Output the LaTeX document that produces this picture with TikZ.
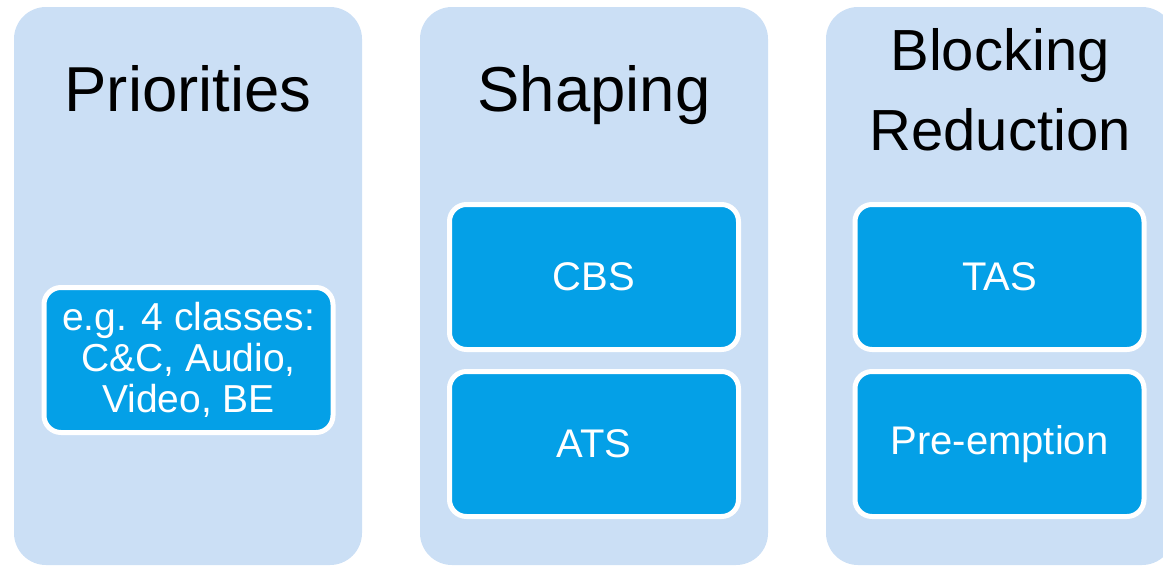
\documentclass[tikz,border=0pt]{standalone}
\usepackage{fontspec}
\setmainfont{Liberation Sans}
\usepackage{xcolor}
\usetikzlibrary{positioning}
\definecolor{colfill}{RGB}{203,223,245}
\definecolor{boxfill}{RGB}{4,160,231}

\begin{document}
\begin{tikzpicture}[x=1pt, y=-1pt,
    column/.style={fill=colfill, rounded corners=32pt, minimum width=348pt, minimum height=558pt, inner sep=0pt},
    heading/.style={font=\fontsize{63.5}{80}\selectfont, align=center, inner sep=0pt},
    mechbox/.style={fill=boxfill, draw=white, line width=5pt, rounded corners=17pt, minimum width=289pt, minimum height=145pt, inner sep=0pt, text=white, font=\fontsize{40}{41}\selectfont, align=center}]
                        \useasboundingbox (0, 0) rectangle (1163, 566);
                        \clip (0, 0) rectangle (1163, 566);
                        \node[column] (prio) at (188, 286) {};
                        \node[column] (shape) at (594, 286) {};
                        \node[column] (block) at (1000, 286) {};
                        \node[heading, anchor=base] (priotitle) at (188, 111) {Priorities};
                        \node[heading, anchor=base] (shapetitle) at (594, 111) {Shaping};
                        \node[heading, font=\fontsize{58}{80}\selectfont] (blocktitle) at (1000, 90) {Blocking\\Reduction};
                        \node[mechbox, font=\fontsize{39}{41}\selectfont] (classes) at (188.5, 360) {e.g. 4 classes:\\C\&C, Audio,\\Video, BE};
                        \node[mechbox] (cbs) at (594, 277) {CBS};
                        \node[mechbox] (ats) at (594, 444) {ATS};
                        \node[mechbox] (tas) at (999.5, 277) {TAS};
                        \node[mechbox] (preempt) at (999.5, 444) {Pre-emption};
                    \end{tikzpicture}
\end{document}
